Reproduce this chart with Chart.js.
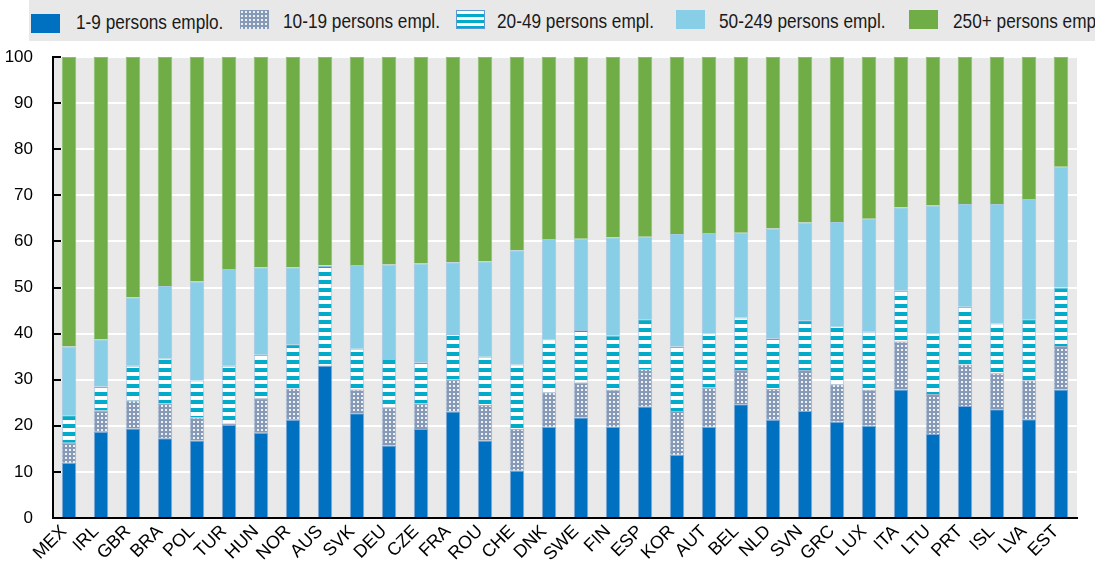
<!DOCTYPE html>
<html><head><meta charset="utf-8">
<script src="https://cdn.jsdelivr.net/npm/chart.js@4.4.1/dist/chart.umd.min.js"></script>
<style>
html,body{margin:0;padding:0;background:#fff;}
#wrap{position:relative;width:1095px;height:567px;overflow:hidden;}
#c{position:absolute;left:0;top:0;}
#band{position:absolute;left:29px;top:0;width:1066px;height:41px;background:#e8e8e8;}
.txt{position:absolute;font-family:"Liberation Sans",Arial,sans-serif;font-size:21px;line-height:21px;color:#1a1a1a;white-space:nowrap;transform:scaleX(0.82);transform-origin:0 0;}
.box{position:absolute;width:29px;height:19px;box-sizing:border-box;}
</style>
</head><body>
<div id="wrap">
<canvas id="c" width="1095" height="567"></canvas>
<div id="band"></div>
</div>
<script>
const categories = ['MEX','IRL','GBR','BRA','POL','TUR','HUN','NOR','AUS','SVK','DEU','CZE','FRA','ROU','CHE','DNK','SWE','FIN','ESP','KOR','AUT','BEL','NLD','SVN','GRC','LUX','ITA','LTU','PRT','ISL','LVA','EST'];
const seriesNames = ['1-9 persons emplo.','10-19 persons empl.','20-49 persons empl.','50-249 persons empl.','250+ persons empl.'];
const s1to9    = [12.0,18.7,19.4,17.3,16.8,20.2,18.5,21.3,33.0,22.7,15.7,19.3,23.1,16.8,10.3,19.8,21.8,19.8,24.2,13.7,19.8,24.7,21.3,23.2,20.9,20.0,27.9,18.2,24.3,23.6,21.4,27.9];
const s10to19  = [4.3,4.6,6.1,7.6,5.0,0.3,7.5,6.8,0.1,5.2,8.3,5.6,7.0,7.7,9.0,7.5,7.6,8.0,8.1,9.5,8.5,7.4,6.7,8.9,8.1,7.8,10.4,8.7,9.0,7.8,8.5,9.4];
const s20to49  = [6.0,5.2,7.5,9.7,8.0,12.5,9.4,9.6,21.6,8.8,10.5,8.9,9.8,10.5,14.0,11.5,11.4,11.8,10.8,14.0,11.8,11.4,11.0,10.8,12.6,12.6,11.0,13.2,12.5,10.8,13.2,12.7];
const s50to249 = [14.9,10.3,14.9,15.7,21.5,21.0,19.0,16.7,0.1,18.2,20.5,21.4,15.6,20.7,24.8,21.7,19.8,21.3,17.9,24.4,21.7,18.4,23.8,21.2,22.6,24.5,18.1,27.7,22.3,25.9,26.1,26.2];
const s250plus = [62.8,61.2,52.1,49.7,48.7,46.0,45.6,45.6,45.2,45.1,45.0,44.8,44.5,44.3,41.9,39.5,39.4,39.1,39.0,38.4,38.2,38.1,37.2,35.9,35.8,35.1,32.6,32.2,31.9,31.9,30.8,23.8];
const yTicks = [0,10,20,30,40,50,60,70,80,90,100];

const FONT = '"Liberation Sans",Arial,sans-serif';

function makeDots(){
  const c=document.createElement('canvas'); c.width=4; c.height=4;
  const g=c.getContext('2d');
  g.fillStyle='#8699b6'; g.fillRect(0,0,4,4);
  g.fillStyle='rgba(255,255,255,0.85)'; g.fillRect(1,1,2,2);
  return c;
}
function makeStripes(){
  const c=document.createElement('canvas'); c.width=4; c.height=8;
  const g=c.getContext('2d');
  g.fillStyle='#ffffff'; g.fillRect(0,0,4,8);
  g.fillStyle='#00acc9'; g.fillRect(0,0,4,4);
  return c;
}
function makeStripesSmall(){
  const c=document.createElement('canvas'); c.width=4; c.height=6;
  const g=c.getContext('2d');
  g.fillStyle='#ffffff'; g.fillRect(0,0,4,6);
  g.fillStyle='#00acc9'; g.fillRect(0,3,4,3);
  return c;
}
const ctx = document.getElementById('c').getContext('2d');
const dotsC = makeDots(), stripesC = makeStripes();
const dotPat = ctx.createPattern(dotsC,'repeat');
const stripePat = ctx.createPattern(stripesC,'repeat');
const colors = ['#0070c0', dotPat, stripePat, '#87cee6', '#70ad47'];
const borders = ['#7fa9d8','#a3b6d0','#9fc4e6','#a8c8e8','#8fbf70'];
const seriesData = [s1to9, s10to19, s20to49, s50to249, s250plus];

// legend (HTML)
const wrap = document.getElementById('wrap');
const legendBoxes = [[31,14,76,11],[240,10,283,9.5],[456,10,497,9.5],[676,10,719,9.5],[909,10,953,9.5]];
const legendBg = ['#0070c0','url('+dotsC.toDataURL()+')','url('+makeStripesSmall().toDataURL()+')','#87cee6','#70ad47'];
seriesNames.forEach((n,i)=>{
  const b=document.createElement('div'); b.className='box';
  b.style.left=legendBoxes[i][0]+'px'; b.style.top=legendBoxes[i][1]+'px';
  b.style.background=legendBg[i];
  if(i===2) b.style.border='1.5px solid #5b9bd5';
  wrap.appendChild(b);
  const t=document.createElement('div'); t.className='txt';
  t.style.left=legendBoxes[i][2]+'px'; t.style.top=legendBoxes[i][3]+'px';
  t.textContent=n; wrap.appendChild(t);
});

const bgPlugin = {
  id:'bg',
  beforeDraw(chart){
    const a=chart.chartArea, g=chart.ctx;
    g.save(); g.fillStyle='#e9e9e9'; g.fillRect(a.left,a.top,a.right-a.left,a.bottom-a.top); g.restore();
  },
  afterDraw(chart){
    const y=chart.scales.y, a=chart.chartArea, g=chart.ctx;
    g.save(); g.strokeStyle='#000'; g.lineWidth=2;
    yTicks.forEach(v=>{
      const py=Math.round(y.getPixelForValue(v));
      g.beginPath(); g.moveTo(a.left,py); g.lineTo(a.left+8,py); g.stroke();
    });
    g.restore();
  }
};

new Chart(ctx,{
  type:'bar',
  data:{
    labels:categories,
    datasets:seriesData.map((d,i)=>({
      label:seriesNames[i], data:d, backgroundColor:colors[i],
      borderColor:borders[i], borderWidth:1, borderSkipped:'start',
      barPercentage:0.45, categoryPercentage:1.0
    }))
  },
  options:{
    responsive:false, animation:false,
    layout:{padding:{top:57,right:18,left:0,bottom:0}},
    plugins:{legend:{display:false},tooltip:{enabled:false}},
    scales:{
      x:{
        stacked:true,
        grid:{display:false,drawTicks:false},
        border:{color:'#000',width:2},
        ticks:{autoSkip:false,maxRotation:45.01,minRotation:45,padding:3,labelOffset:-5,color:'#000',font:{family:FONT,size:18}},
        afterFit(s){ s.height=49; }
      },
      y:{
        stacked:true, min:0, max:100,
        grid:{color:'#ffffff',lineWidth:2,drawTicks:false},
        border:{color:'#000',width:2},
        ticks:{stepSize:10,padding:20,color:'#000',font:{family:FONT,size:17}},
        afterFit(s){ s.width=53; }
      }
    }
  },
  plugins:[bgPlugin]
});
</script>
</body></html>
